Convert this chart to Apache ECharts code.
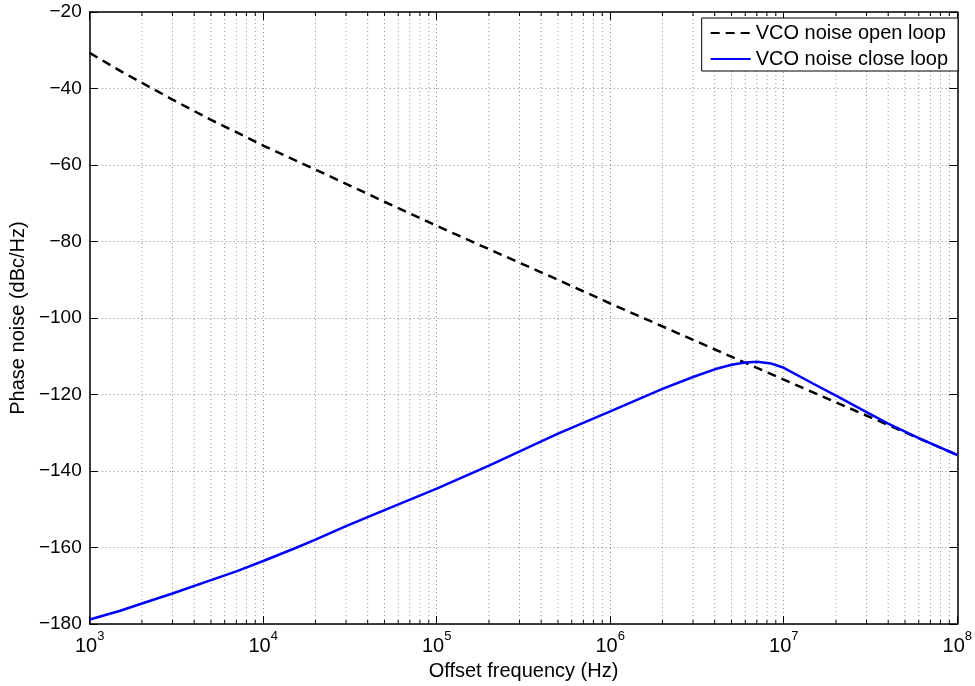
<!DOCTYPE html>
<html>
<head>
<meta charset="utf-8">
<script src="https://cdn.jsdelivr.net/npm/echarts@6/dist/echarts.min.js"></script>
<style>
html,body{margin:0;padding:0;background:#fff;}
#chart{width:975px;height:686px;}
</style>
</head>
<body>
<div id="chart"></div>
<script>
// ---- data ----
const seriesNames = ['VCO noise open loop', 'VCO noise close loop'];

const openFreq = [1e3, 1.5e3, 2e3, 3e3, 5e3, 7e3, 1e4, 1.5e4, 2e4, 3e4, 5e4, 1e5, 2e5, 5e5, 1e6, 1e7, 1e8];
const openLoop = [-30.7, -35.4, -38.5, -42.9, -48.2, -51.4, -54.9, -58.6, -61.2, -64.9, -69.6, -75.9, -82.0, -90.0, -96.2, -116.1, -135.8];

const closeFreq = [1e3, 1.5e3, 2e3, 3e3, 5e3, 7e3, 1e4, 1.5e4, 2e4, 3e4, 5e4, 1e5, 2e5, 5e5, 1e6, 2e6, 3e6, 4e6, 5e6, 6e6, 7e6, 8.5e6, 1e7, 1.5e7, 2e7, 3e7, 4e7, 6e7, 1e8];
const closeLoop = [-178.8, -176.5, -174.6, -172.0, -168.5, -166.2, -163.5, -160.3, -157.9, -154.4, -150.2, -144.6, -138.6, -130.2, -124.4, -118.5, -115.4, -113.4, -112.2, -111.6, -111.4, -111.9, -113.0, -117.3, -120.3, -124.6, -127.6, -131.4, -135.8];

const xDecades = [1e3, 1e4, 1e5, 1e6, 1e7];
const minorMultipliers = [2, 3, 4, 5, 6, 7, 8, 9];
const yMin = -180, yMax = -20, yStep = 20;
const xMin = 1e3, xMax = 1e8;

// ---- build ----
const FONT = '"Liberation Sans", Arial, Helvetica, sans-serif';
const minorTicks = [];
xDecades.forEach(d => minorMultipliers.forEach(m => minorTicks.push([d * m, yMin])));

const openData = openFreq.map((f, i) => [f, openLoop[i]]);
const closeData = closeFreq.map((f, i) => [f, closeLoop[i]]);

const chart = echarts.init(document.getElementById('chart'), null, {renderer: 'canvas'});

const dotted = {type: [1, 3], color: '#8a8a8a', width: 1};

const xLabelFmt = v => '{b|10}{s|' + Math.round(Math.log10(v)) + '}';
const yLabelFmt = v => (v < 0 ? '\u2212' + Math.abs(v) : String(v));

const option = {
  backgroundColor: '#fff',
  animation: false,
  textStyle: {fontFamily: FONT},
  grid: {left: 86, top: 12, right: 14, bottom: 56, containLabel: false},
  legend: {
    data: seriesNames,
    orient: 'vertical',
    right: 17, top: 18,
    padding: [5, 10, 2, 8],
    itemGap: 6,
    itemWidth: 40, itemHeight: 14,
    backgroundColor: '#fff',
    borderColor: '#000', borderWidth: 1, borderRadius: 0,
    itemStyle: {opacity: 0},
    textStyle: {fontFamily: FONT, fontSize: 20, color: '#000'}
  },
  xAxis: [{
    type: 'log', logBase: 10, min: xMin, max: xMax, interval: 1,
    position: 'bottom',
    name: 'Offset frequency (Hz)', nameLocation: 'middle', nameGap: 34,
    nameTextStyle: {fontFamily: FONT, fontSize: 20, color: '#000'},
    axisLine: {show: true, onZero: false, lineStyle: {color: '#000', width: 1.5}},
    axisTick: {show: true, inside: true, length: 8, lineStyle: {color: '#000', width: 1}},
    axisLabel: {
      margin: 6, color: '#000', formatter: xLabelFmt,
      rich: {
        b: {fontFamily: FONT, fontSize: 20, color: '#000', verticalAlign: 'bottom', lineHeight: 26},
        s: {fontFamily: FONT, fontSize: 13, color: '#000', verticalAlign: 'top', lineHeight: 12}
      }
    },
    splitLine: {show: true, lineStyle: dotted}
  }, {
    type: 'log', logBase: 10, min: xMin, max: xMax, interval: 1,
    position: 'top',
    axisLine: {show: true, onZero: false, lineStyle: {color: '#000', width: 1.5}},
    axisTick: {show: true, inside: true, length: 8, lineStyle: {color: '#000', width: 1}},
    axisLabel: {show: false},
    splitLine: {show: false}
  }],
  yAxis: [{
    type: 'value', min: yMin, max: yMax, interval: yStep,
    position: 'left',
    name: 'Phase noise (dBc/Hz)', nameLocation: 'middle', nameGap: 58, nameRotate: 90,
    nameTextStyle: {fontFamily: FONT, fontSize: 20, color: '#000'},
    axisLine: {show: true, onZero: false, lineStyle: {color: '#000', width: 1.5}},
    axisTick: {show: true, inside: true, length: 8, lineStyle: {color: '#000', width: 1}},
    axisLabel: {margin: 8, color: '#000', fontFamily: FONT, fontSize: 19, formatter: yLabelFmt},
    splitLine: {show: true, lineStyle: dotted}
  }, {
    type: 'value', min: yMin, max: yMax, interval: yStep,
    position: 'right',
    axisLine: {show: true, onZero: false, lineStyle: {color: '#000', width: 1.5}},
    axisTick: {show: true, inside: true, length: 8, lineStyle: {color: '#000', width: 1}},
    axisLabel: {show: false},
    splitLine: {show: false}
  }],
  series: [{
    name: 'minorGrid',
    type: 'custom',
    xAxisIndex: 0, yAxisIndex: 0,
    silent: true, z: 1,
    data: minorTicks,
    renderItem: function (params, api) {
      const f = api.value(0);
      const p0 = api.coord([f, yMin]);
      const p1 = api.coord([f, yMax]);
      return {
        type: 'group',
        children: [
          {type: 'line', shape: {x1: p0[0], y1: p0[1], x2: p1[0], y2: p1[1]},
           style: {stroke: '#8a8a8a', lineWidth: 1, lineDash: [1, 3]}},
          {type: 'line', shape: {x1: p0[0], y1: p0[1], x2: p0[0], y2: p0[1] - 4},
           style: {stroke: '#000', lineWidth: 1}},
          {type: 'line', shape: {x1: p1[0], y1: p1[1], x2: p1[0], y2: p1[1] + 4},
           style: {stroke: '#000', lineWidth: 1}}
        ]
      };
    }
  }, {
    name: seriesNames[0],
    type: 'line',
    xAxisIndex: 0, yAxisIndex: 0,
    data: openData,
    symbol: 'none',
    smooth: false,
    z: 3,
    lineStyle: {color: '#000', width: 2.5, type: [9, 6]},
    itemStyle: {color: '#000'}
  }, {
    name: seriesNames[1],
    type: 'line',
    xAxisIndex: 0, yAxisIndex: 0,
    data: closeData,
    symbol: 'none',
    smooth: false,
    z: 4,
    lineStyle: {color: '#0000ff', width: 2.5, type: 'solid'},
    itemStyle: {color: '#0000ff'}
  }]
};
chart.setOption(option);
</script>
</body>
</html>
